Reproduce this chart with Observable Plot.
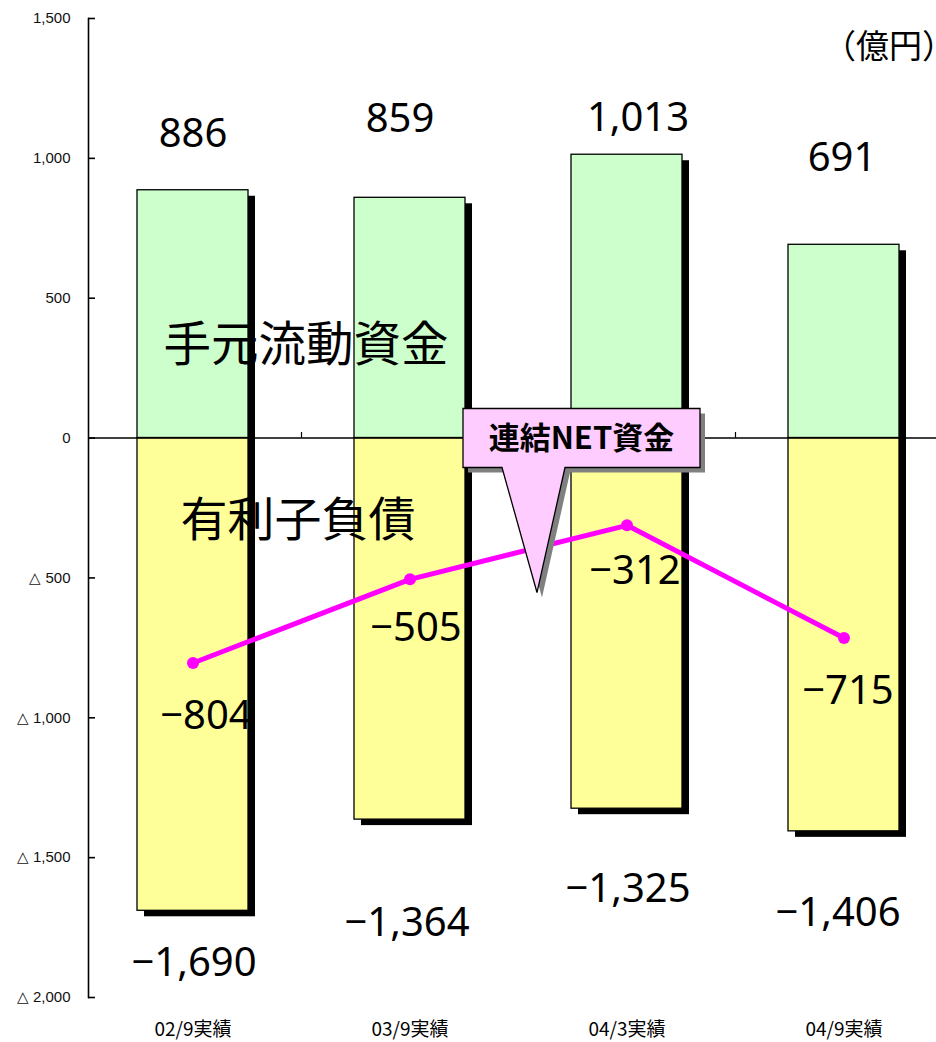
<!DOCTYPE html>
<html>
<head>
<meta charset="utf-8">
<script src="https://cdn.jsdelivr.net/npm/d3@7"></script>
<script src="https://cdn.jsdelivr.net/npm/@observablehq/plot@0.6"></script>
<style>
  html, body { margin: 0; padding: 0; background: #fff; }
  #chart { position: relative; width: 936px; height: 1042px; overflow: hidden; }
  #unit { position: absolute; left: 823px; top: 20px; font: 33px/48px "Noto Sans CJK JP", sans-serif; white-space: nowrap; color: #000; }
</style>
</head>
<body>
<div id="chart"><div id="unit">（億円）</div></div>
<script>
// ---- data ----
const categories = ["02/9実績", "03/9実績", "04/3実績", "04/9実績"];
const cash = [886, 859, 1013, 691];          // 手元流動資金
const debt = [-1690, -1364, -1325, -1406];   // 有利子負債
const net = [-804, -505, -312, -715];        // 連結NET資金
const yTicks = [1500, 1000, 500, 0, -500, -1000, -1500, -2000];
const yTickLabels = ["1,500", "1,000", "500", "0", "△ 500", "△ 1,000", "△ 1,500", "△ 2,000"];

// ---- label layout (data-unit anchors and pixel nudges) ----
const cashLabelY = [1086, 1139, 1143, 1000];
const cashLabelDx = [0, -10, 11, -2];
const debtLabelY = [-1879, -1736, -1614, -1700];
const debtLabelDx = [1, -3, 1, -6];
const netLabelY = [-993, -679, -475, -904];
const netLabelDx = [13, 6, 8, 4];

const rows = categories.map((c, i) => ({
  cat: c, cash: cash[i], debt: debt[i], net: net[i],
  cashY: cashLabelY[i], cashDx: cashLabelDx[i],
  debtY: debtLabelY[i], debtDx: debtLabelDx[i],
  netY: netLabelY[i], netDx: netLabelDx[i]
}));
const fmt = d3.format(",");
const tickLabel = new Map(yTicks.map((t, i) => [t, yTickLabels[i]]));
const numFont = '"Noto Sans", "Noto Sans CJK JP", sans-serif';
const cjkFont = '"Noto Sans CJK JP", sans-serif';

const plot = Plot.plot({
  width: 936,
  height: 1042,
  marginTop: 18,
  marginBottom: 45,
  marginLeft: 88,
  marginRight: 0,
  x: { domain: categories, range: [83.5, 951.5], paddingInner: 0.49, paddingOuter: 0.245, axis: null, label: null },
  y: { domain: [-2000, 1500], axis: null, label: null },
  style: { background: "white", overflow: "hidden", fontFamily: cjkFont },
  marks: [
    // drop shadows
    Plot.barY(rows, { x: "cat", y1: "debt", y2: "cash", fill: "black", dx: 7, dy: 6 }),
    // bars
    Plot.barY(rows, { x: "cat", y1: () => 0, y2: "cash", fill: "#CCFFCC", stroke: "black", strokeWidth: 1.3 }),
    Plot.barY(rows, { x: "cat", y1: () => 0, y2: "debt", fill: "#FFFF99", stroke: "black", strokeWidth: 1.3 }),
    // axes
    Plot.frame({ anchor: "left", strokeWidth: 1.6 }),
    Plot.axisY({ ticks: yTicks, tickFormat: d => tickLabel.get(d), tickSize: 0, tickPadding: 18, fontSize: 15, fontFamily: '"Liberation Sans", Arial, sans-serif', fill: "#111", label: null }),
    Plot.axisY({ ticks: yTicks, tickFormat: () => "", tickSize: 7, dx: 7, strokeWidth: 1.6, label: null }),
    Plot.ruleY([0], { strokeWidth: 1.5 }),
    Plot.ruleX(categories.slice(0, 3), { x: d => d, y1: () => 0, y2: () => 20, dx: 108.5, strokeWidth: 1.2 }),
    Plot.axisX({ tickSize: 0, tickPadding: 25, fontSize: 19, fontFamily: cjkFont, fill: "#000", label: null }),
    // series labels
    Plot.text(["手元流動資金"], { x: () => categories[0], y: () => 329, dx: 113, fontSize: 47.5, fontFamily: cjkFont, fill: "#000" }),
    Plot.text(["有利子負債"], { x: () => categories[0], y: () => -296, dx: 105, fontSize: 47, fontFamily: cjkFont, fill: "#000" }),
    // value labels
    Plot.text(rows, { x: "cat", y: "cashY", text: d => fmt(d.cash), fontSize: 40, fontFamily: numFont, fill: "#000" }),
    Plot.text(rows, { x: "cat", y: "debtY", text: d => fmt(d.debt), fontSize: 40, fontFamily: numFont, fill: "#000" }),
    Plot.text(rows, { x: "cat", y: "netY", text: d => fmt(d.net), fontSize: 40, fontFamily: numFont, fill: "#000" }),
    // net line
    Plot.line(rows, { x: "cat", y: "net", stroke: "#FF00FF", strokeWidth: 5 }),
    Plot.dot(rows, { x: "cat", y: "net", r: 6, fill: "#FF00FF" })
  ]
});

// apply per-label pixel nudges
const svg = d3.select(plot);
const textGroups = svg.selectAll('g[aria-label="text"]').nodes();
const valueGroups = textGroups.slice(-3);
[["cashDx", 0], ["debtDx", 1], ["netDx", 2]].forEach(([key, gi]) => {
  d3.select(valueGroups[gi]).selectAll("text").each(function (_, i) {
    const t = d3.select(this);
    const cur = +(t.attr("x") || 0);
    t.attr("x", cur + rows[i][key]);
  });
});

// callout "連結NET資金" anchored to the scales
const xs = plot.scale("x"), ys = plot.scale("y");
const tipX = xs.apply(categories[1]) + xs.bandwidth + 72;
const tipY = ys.apply(-554);
const boxL = tipX - 74, boxR = tipX + 163, boxT = ys.apply(104), boxB = ys.apply(-107);
const calloutPath = `M${boxL},${boxT}H${boxR}V${boxB}H${tipX + 28}L${tipX},${tipY}L${tipX - 35},${boxB}H${boxL}Z`;
const g = svg.append("g");
g.append("path").attr("d", calloutPath).attr("fill", "#808080").attr("transform", "translate(5,5)");
g.append("path").attr("d", calloutPath).attr("fill", "#FFCCFF").attr("stroke", "black").attr("stroke-width", 1.3);
g.append("text").attr("x", (boxL + boxR) / 2).attr("y", (boxT + boxB) / 2).attr("dy", "0.36em")
  .attr("text-anchor", "middle").attr("font-size", 31).attr("font-weight", "bold")
  .attr("font-family", cjkFont).text("連結NET資金");

document.getElementById("chart").prepend(plot);
</script>
</body>
</html>
